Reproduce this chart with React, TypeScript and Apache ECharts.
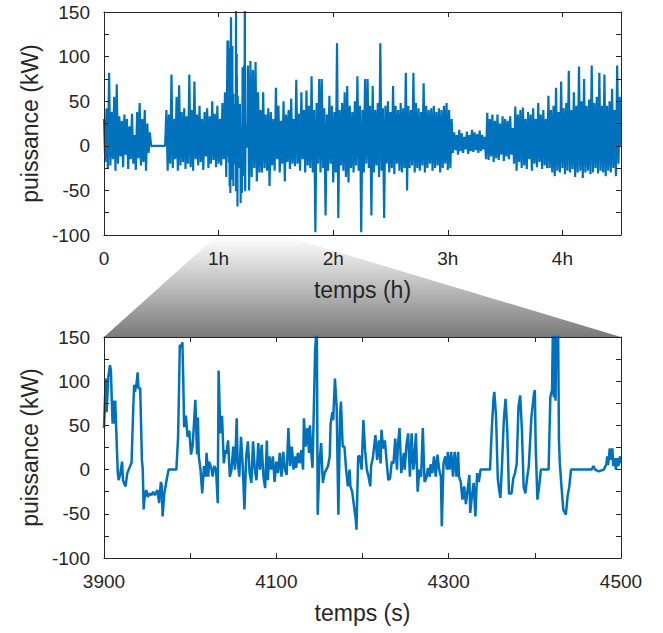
import React, { useEffect, useRef } from 'react';
import * as echarts from 'echarts';

// ---------------- data ----------------
// Overview record (top panel): one sample every 40 s, values in kW.
const OVERVIEW_STEP_S = 40;
const SEG_START = [30,-18,42,-25,82,-22,38,-15,55,-28,69,-20,33,-12,28,-24,35,-10,30,-26,22,-15,36,-20,12,-27,38,-14,48,-22,30,-18,40,-28,25,-8,15];
const SEG_IDLE = [0,0,0,0,0,0,0,0,0,0,0,0];
const SEG_RESTART = [40,-28,35,-20,80,-25,30,-15,55,-28,68,-22,38,-18,42,-26,33,-20,80,-24,40,-28,72,-15,35,-22,45,-18,30,-27,38,-12,42,-25,33,-20,50,-16,36,-24,45,-20,30,-22,48,-15];
const SEG_PEAK = [60,-35,118,-55,150,-40,110,-30,80,-60,160,-67,95,-45,70,-55,120,-30,90,-50,95,-35,85,-25,94,-40,60,-30];
const SEG_MID = [
  40,-30,60,-25,35,-28,42,-45,38,-22,30,-28,65,-15,45,-30,28,-20,50,-40,
  35,-18,40,-26,53,-20,30,-23,74,-20,36,-28,60,-15,40,-30,62,-22,45,-25,
  78,-30,40,-97,48,-20,75,-30,75,-25,42,-78,35,-28,56,-20,45,-41,38,-30,
  115,-81,40,-22,48,-28,60,-35,67,-41,45,-25,38,-30,50,-22,78,-28,45,-97,
  40,-30,75,-20,75,-25,45,-78,67,-30,40,-22,48,-35,115,-28,42,-81,45,-20,
  50,-30,38,-25,67,-32,45,-20,40,-28,48,-30,42,-25,82,-50,45,-25,40,-22,
  82,-30,48,-25,42,-28,38,-22,70,-30,45,-25,40,-20,42,-28,45,-25,38,-22,
  42,-30,40,-25,45,-20,48,-27,40,-25,30
];
const SEG_CALM = [-8,15,-5,12,-10,18,-6,14,-8,10,-4,16,-9,12,-6,18,-7,15,-5,13,-8,17,-6,12,-4,10];
const SEG_LATE1 = [-15,37,-16,30,-12,35,-18,28,-14,35,-16,25,-10,33,-17,30,-12,28,-15,33,-10,20];
const SEG_LATE2 = [-20,44,-28,35,-18,40,-25,43,-22,30,-26,38,-15,35,-28,42,-20,30,-24,48,-18,35,-26,40,-22,30,-25];
const SEG_END = [56,-25,40,-30,45,-34,65,-28,38,-30,72,-25,42,-32,48,-28,84,-30,40,-26,60,-35,45,-30,89,-28,50,-36,75,-30,45,-28,52,-32,90,-30,48,-25,55,-31,82,-28,45,-30,80,-34,45,-28,50,-30,64,-25,40,-34,90,-20,55,0];

// Detailed record (bottom panel): [time s, power kW]
const ZOOM_A = [[3900,47],[3902,103],[3903,65],[3905,105],[3907,118],[3908,112],[3909,79],[3910,52],[3911,78],[3912,52],[3913,78],[3916,-4],[3917,-12],[3919,-4],[3921,9],[3922,-12],[3925,-19],[3927,-4],[3932,8],[3934,71],[3935,96],[3936,88],[3938,99],[3939,110],[3940,92],[3942,92],[3944,11],[3945,0],[3946,-45],[3947,-33],[3949,-23],[3951,-31],[3953,-27],[3955,-29],[3957,-25],[3959,-29],[3962,-23],[3964,-38],[3966,-14],[3967,-18],[3968,-53],[3970,-27],[3973,-10],[3975,0],[3984,0],[3986,37],[3988,141],[3990,139],[3991,144],[3992,101],[3993,48],[3995,61],[3997,37],[3999,44]];
const ZOOM_B = [[4001,17],[4003,28],[4006,79],[4008,17],[4009,59],[4010,15],[4012,0],[4014,-27],[4016,4],[4018,-8],[4019,19],[4021,-8],[4022,9],[4025,0],[4026,-8],[4028,4],[4030,0],[4032,-38],[4033,112],[4035,41],[4037,61],[4039,7],[4041,22],[4042,18],[4044,33],[4046,-8],[4048,0],[4050,26],[4052,0],[4054,58],[4055,11],[4057,-8],[4059,37],[4061,4],[4063,-45],[4065,15],[4067,32],[4069,-4],[4071,-15],[4073,32],[4075,0],[4077,-12],[4079,30],[4081,0],[4083,28],[4085,-8],[4087,-21],[4089,33],[4090,-12],[4092,15],[4094,0],[4096,15],[4098,-14]];
const ZOOM_C = [[4100,9],[4102,-4],[4104,19],[4106,-8],[4108,20],[4110,0],[4112,-6],[4114,47],[4116,4],[4118,26],[4120,0],[4122,15],[4123,2],[4125,19],[4127,7],[4129,22],[4131,0],[4132,58],[4134,26],[4136,47],[4138,19],[4139,50],[4141,13],[4142,2],[4143,45],[4145,135],[4147,165],[4148,-51],[4150,7],[4152,30],[4154,-15],[4156,-4],[4158,0],[4160,4],[4162,15],[4163,52],[4165,65],[4166,56],[4168,103],[4170,71],[4172,-51],[4174,63],[4175,77],[4177,26],[4179,26],[4181,0],[4183,-19],[4185,0],[4186,-19],[4188,-25],[4190,-40],[4192,-55],[4193,-68],[4195,15],[4197,15],[4199,0]];
const ZOOM_D = [[4201,56],[4203,22],[4205,0],[4207,-8],[4209,-19],[4210,4],[4212,13],[4215,39],[4217,11],[4219,33],[4221,7],[4222,45],[4224,24],[4226,33],[4228,9],[4230,-12],[4232,-10],[4234,9],[4236,7],[4238,35],[4240,0],[4241,26],[4243,47],[4245,-4],[4248,19],[4249,0],[4251,28],[4253,41],[4255,-8],[4257,41],[4259,0],[4260,7],[4262,41],[4264,-25],[4266,0],[4268,-8],[4270,47],[4272,-14],[4274,-10],[4276,2],[4278,-8],[4279,6],[4281,-4],[4283,15],[4285,-8],[4287,17],[4289,0],[4291,-8],[4292,-64],[4294,7],[4296,15],[4298,0],[4299,20]];
const ZOOM_E = [[4301,0],[4303,20],[4305,-8],[4307,20],[4309,-8],[4311,20],[4312,-8],[4314,-14],[4316,-34],[4318,-19],[4320,-39],[4322,-23],[4324,-6],[4325,-49],[4327,-30],[4329,-15],[4331,-53],[4333,-4],[4335,-14],[4337,0],[4348,0],[4350,45],[4352,80],[4353,88],[4355,60],[4357,-10],[4358,-19],[4360,-32],[4362,7],[4364,56],[4366,80],[4368,45],[4370,-27],[4373,-27],[4375,-10],[4377,-4],[4379,7],[4381,71],[4383,84],[4385,45],[4387,-19],[4389,-27],[4391,-10],[4393,4],[4396,59],[4399,86],[4400,90]];
const ZOOM_F = [[4401,26],[4403,-34],[4405,-19],[4407,0],[4416,0],[4418,82],[4420,90],[4421,165],[4422,82],[4423,165],[4424,78],[4425,165],[4427,165],[4428,33],[4429,7],[4431,-20],[4433,-45],[4434,-47],[4436,-51],[4438,-30],[4440,-19],[4442,0],[4466,0],[4468,4],[4470,0],[4474,-2],[4480,0],[4483,6],[4484,15],[4485,5],[4487,24],[4488,11],[4490,24],[4491,4],[4493,13],[4494,0],[4496,13],[4497,4],[4499,15],[4500,7]];

const HOUR_LABELS = ['0', '1h', '2h', '3h', '4h'];
const TOP_X_MAX_S = 16240;
const ZOOM_X_MIN = 3900;
const ZOOM_X_MAX = 4500;
const Y_MIN = -100;
const Y_MAX = 150;

// ---------------- styling ----------------
const FONT = "'Liberation Sans', Arial, Helvetica, sans-serif";
const INK = '#262626';
const BLUE = '#0072BD';
const G0 = { left: 104, top: 12, width: 517, height: 223 };
const G1 = { left: 104, top: 337, width: 517, height: 221 };

function buildOption() {
  const overviewValues = [
    ...SEG_START, ...SEG_IDLE, ...SEG_RESTART, ...SEG_PEAK, ...SEG_MID,
    ...SEG_CALM, ...SEG_LATE1, ...SEG_LATE2, ...SEG_END,
  ];
  const overview = overviewValues.map((v, i) => [i * OVERVIEW_STEP_S, v]);
  const zoom = [...ZOOM_A, ...ZOOM_B, ...ZOOM_C, ...ZOOM_D, ...ZOOM_E, ...ZOOM_F];
  const z0 = zoom[0][0];
  const z1 = zoom[zoom.length - 1][0];
  const topData = [
    ...overview.filter((p) => p[0] < z0),
    ...zoom,
    ...overview.filter((p) => p[0] > z1),
  ];

  const tickLabel = { color: INK, fontSize: 19, fontFamily: FONT };
  const nameStyle = { color: INK, fontSize: 23, fontFamily: FONT };
  const line = { show: true, onZero: false, lineStyle: { color: INK, width: 1 } };
  const tick = { show: true, inside: true, length: 5, lineStyle: { color: INK, width: 1 } };

  const yLabel = (v: number) => (Math.abs(v) % 50 === 0 ? String(v) : '');

  const yAxes: any[] = [];
  [0, 1].forEach((g) => {
    yAxes.push({
      gridIndex: g, type: 'value', position: 'left', min: Y_MIN, max: Y_MAX, interval: 25,
      axisLine: line, axisTick: tick, splitLine: { show: false },
      axisLabel: { ...tickLabel, margin: 14, formatter: yLabel },
      name: 'puissance (kW)', nameLocation: 'middle', nameGap: 63, nameRotate: 90,
      nameTextStyle: nameStyle, z: 5,
    });
    yAxes.push({
      gridIndex: g, type: 'value', position: 'right', min: Y_MIN, max: Y_MAX, interval: 25,
      axisLine: line, axisTick: tick, splitLine: { show: false }, axisLabel: { show: false }, z: 5,
    });
  });

  return {
    animation: false,
    backgroundColor: '#ffffff',
    grid: [G0, G1],
    graphic: [
      {
        type: 'polygon',
        z: -1,
        silent: true,
        shape: {
          points: [
            [216, G0.top + G0.height + 1.5],
            [286, G0.top + G0.height + 1.5],
            [G1.left + G1.width, G1.top],
            [G1.left, G1.top],
          ],
        },
        style: {
          fill: {
            type: 'linear', x: 0, y: 0, x2: 0, y2: 1,
            colorStops: [
              { offset: 0, color: '#ffffff' },
              { offset: 1, color: '#7a7a7a' },
            ],
          },
        },
      },
    ],
    xAxis: [
      {
        gridIndex: 0, type: 'value', position: 'bottom', min: 0, max: TOP_X_MAX_S, interval: 3600,
        axisLine: line, axisTick: tick, splitLine: { show: false },
        axisLabel: {
          ...tickLabel, margin: 14,
          formatter: (v: number) => (v % 3600 === 0 && v / 3600 < HOUR_LABELS.length ? HOUR_LABELS[v / 3600] : ''),
        },
        name: 'temps (h)', nameLocation: 'middle', nameGap: 43, nameTextStyle: nameStyle, z: 5,
      },
      {
        gridIndex: 0, type: 'value', position: 'top', min: 0, max: TOP_X_MAX_S, interval: 3600,
        axisLine: line, axisTick: tick, splitLine: { show: false }, axisLabel: { show: false }, z: 5,
      },
      {
        gridIndex: 1, type: 'value', position: 'bottom', min: ZOOM_X_MIN, max: ZOOM_X_MAX, interval: 100,
        axisLine: line, axisTick: tick, splitLine: { show: false },
        axisLabel: {
          ...tickLabel, margin: 14,
          formatter: (v: number) => ((v - ZOOM_X_MIN) % 200 === 0 ? String(v) : ''),
        },
        name: 'temps (s)', nameLocation: 'middle', nameGap: 43, nameTextStyle: nameStyle, z: 5,
      },
      {
        gridIndex: 1, type: 'value', position: 'top', min: ZOOM_X_MIN, max: ZOOM_X_MAX, interval: 100,
        axisLine: line, axisTick: tick, splitLine: { show: false }, axisLabel: { show: false }, z: 5,
      },
    ],
    yAxis: yAxes,
    series: [
      {
        type: 'line', xAxisIndex: 0, yAxisIndex: 0, data: topData, showSymbol: false, clip: true,
        lineStyle: { color: BLUE, width: 2.2 }, silent: true,
      },
      {
        type: 'line', xAxisIndex: 2, yAxisIndex: 2, data: zoom, showSymbol: false, clip: true,
        lineStyle: { color: BLUE, width: 2.5 }, silent: true,
      },
    ],
  };
}

export default function App() {
  const ref = useRef<HTMLDivElement>(null);
  useEffect(() => {
    if (!ref.current) return;
    const chart = echarts.init(ref.current, null, { renderer: 'svg' });
    chart.setOption(buildOption() as any);
    return () => chart.dispose();
  }, []);
  return (
    <div
      ref={ref}
      style={{ position: 'absolute', left: 0, top: 0, width: 663, height: 633, background: '#fff' }}
    />
  );
}
